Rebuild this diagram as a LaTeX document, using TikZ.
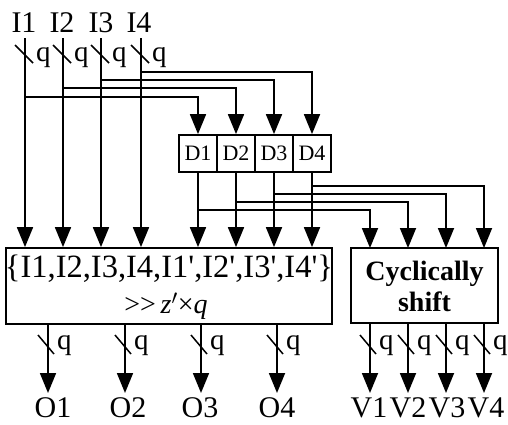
\documentclass[tikz,border=0pt]{standalone}
\usepackage{fontspec}
\setmainfont{Liberation Serif}
\usetikzlibrary{arrows.meta}
\begin{document}
\begin{tikzpicture}[x=1pt,y=-1pt,
  wire/.style={line width=1.8pt},
  arr/.style={wire,-{Triangle[length=20pt,width=16pt]}},
  boxs/.style={draw,line width=1.8pt,inner sep=0pt},
  lbl/.style={inner sep=0pt,font=\fontsize{30}{32}\selectfont},
  qlbl/.style={inner sep=0pt,anchor=base west,font=\fontsize{29}{31}\selectfont},
  dlbl/.style={font=\fontsize{22}{24}\selectfont},
  slashs/.style={line width=1.5pt}
]
\useasboundingbox (0,0) rectangle (508,424);

% boxes
\node[boxs,minimum width=326pt,minimum height=76pt] (big) at (169,286) {};
\node[inner sep=0pt,font=\fontsize{32.5}{34}\selectfont] (bigt1) at (169,269) {\{I1,I2,I3,I4,I1\textquotesingle,I2\textquotesingle,I3\textquotesingle,I4\textquotesingle\}};
\node[inner sep=0pt,font=\fontsize{28}{30}\selectfont] (bigt2) at (166,306) {{>}{>}\,\textit{z}$'$×\textit{q}};
\node[boxs,minimum width=147pt,minimum height=75pt] (cyc) at (424.5,285.5) {};
\node[inner sep=0pt,align=center,font=\fontsize{28}{31}\selectfont\bfseries] (cyct) at (424.5,286) {Cyclically\\shift};

\node[boxs,minimum width=38pt,minimum height=37pt,dlbl] (d1) at (198,153.5) {D1};
\node[boxs,minimum width=38pt,minimum height=37pt,dlbl] (d2) at (236,153.5) {D2};
\node[boxs,minimum width=38pt,minimum height=37pt,dlbl] (d3) at (274,153.5) {D3};
\node[boxs,minimum width=38pt,minimum height=37pt,dlbl] (d4) at (312,153.5) {D4};

% input labels
\node[lbl] (I1) at (24,23) {I1};
\node[lbl] (I2) at (62,23) {I2};
\node[lbl] (I3) at (101,23) {I3};
\node[lbl] (I4) at (139,23) {I4};

\foreach \n/\x in {1/25,2/63,3/101,4/141}{
  \coordinate (i\n) at (\x,38);
  \draw[arr] (i\n) -- (i\n |- big.north);
  \draw[slashs] (\x-10,45) -- (\x+8,63);
  \node[qlbl] (qi\n) at (\x+11,61) {q};
}

% branches to D boxes
\draw[arr] (i1 |- 0,97) -| (d1.north);
\draw[arr] (i2 |- 0,88) -| (d2.north);
\draw[arr] (i3 |- 0,80) -| (d3.north);
\draw[arr] (i4 |- 0,72) -| (d4.north);

% D outputs into big box
\foreach \n in {1,2,3,4}{
  \draw[arr] (d\n.south) -- (d\n.south |- big.north);
}

% D outputs into cyclic shift box
\coordinate (c1) at (370,248);
\coordinate (c2) at (408,248);
\coordinate (c3) at (446,248);
\coordinate (c4) at (484,248);
\draw[arr] (d1.south |- 0,210) -| (c1);
\draw[arr] (d2.south |- 0,202) -| (c2);
\draw[arr] (d3.south |- 0,194) -| (c3);
\draw[arr] (d4.south |- 0,186) -| (c4);

% outputs of big box
\node[lbl] (O1) at (53,408) {O1};
\node[lbl] (O2) at (128,408) {O2};
\node[lbl] (O3) at (200,408) {O3};
\node[lbl] (O4) at (277,408) {O4};
\foreach \n/\x in {1/48,2/125,3/201,4/277}{
  \coordinate (o\n) at (\x,393);
  \draw[arr] (o\n |- big.south) -- (o\n);
  \draw[slashs] (\x-10,335) -- (\x+6,354);
  \node[qlbl] (qo\n) at (\x+9,349) {q};
}

% outputs of cyclic shift
\node[lbl] (V1) at (369,408) {V1};
\node[lbl] (V2) at (408,408) {V2};
\node[lbl] (V3) at (447,408) {V3};
\node[lbl] (V4) at (486,408) {V4};
\foreach \n/\x in {1/370,2/408,3/446,4/484}{
  \coordinate (v\n) at (\x,393);
  \draw[arr] (v\n |- cyc.south) -- (v\n);
  \draw[slashs] (\x-10,335) -- (\x+6,354);
  \node[qlbl] (qv\n) at (\x+9,349) {q};
}
\end{tikzpicture}
\end{document}
